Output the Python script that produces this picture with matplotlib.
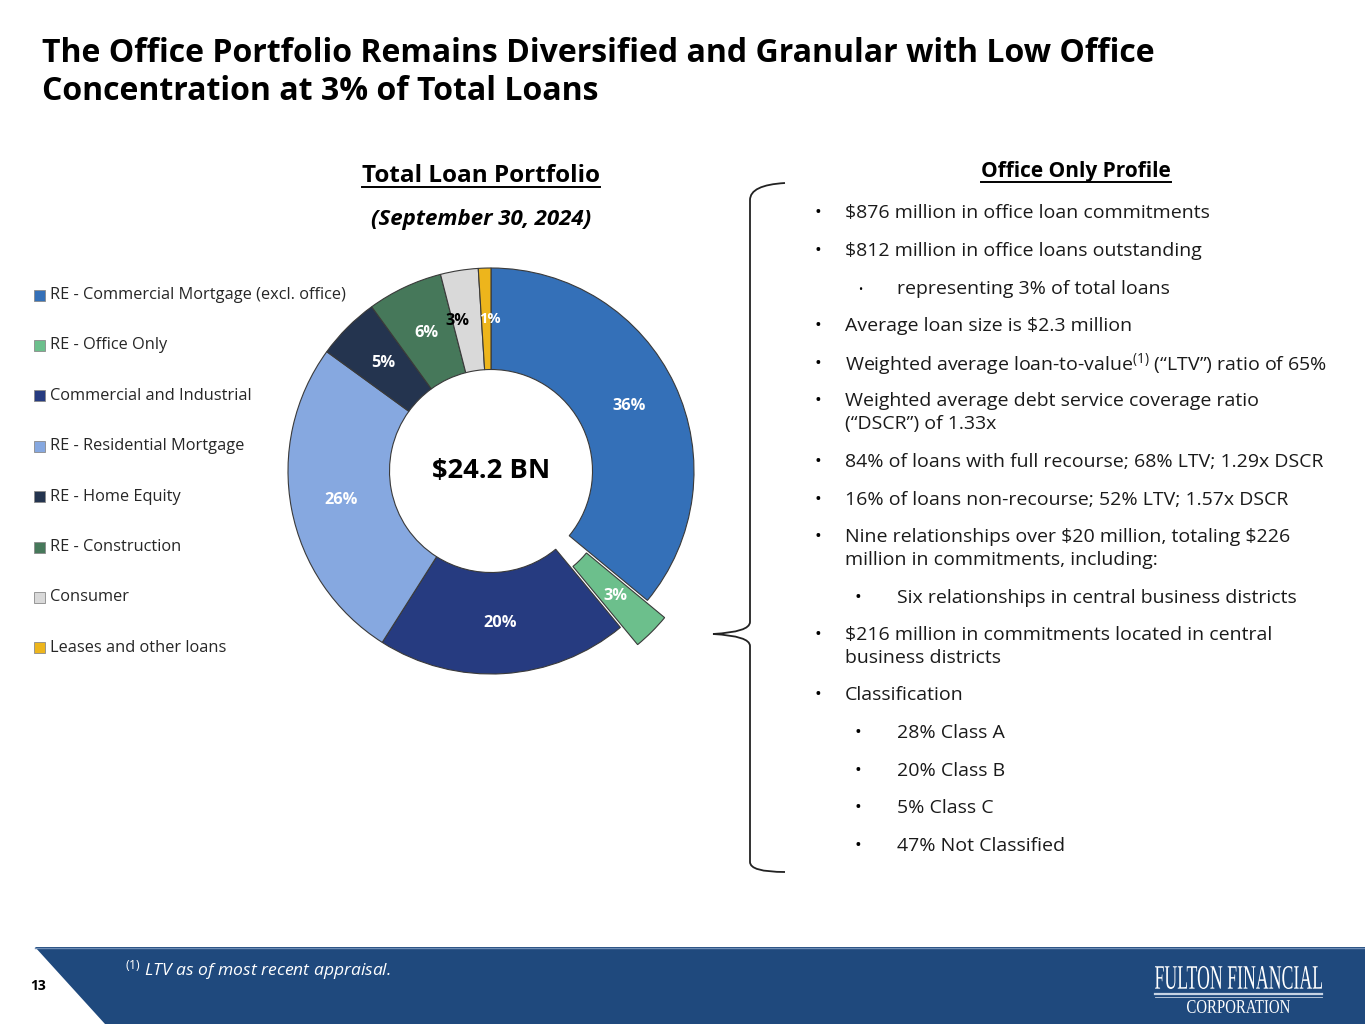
import numpy as np
import matplotlib
matplotlib.use("Agg")
import matplotlib.pyplot as plt
from matplotlib.path import Path
from matplotlib.patches import PathPatch, Polygon, Rectangle
from matplotlib.textpath import TextPath
from matplotlib.font_manager import FontProperties
from matplotlib.transforms import Affine2D

plt.rcParams['font.family'] = ['Open Sans', 'DejaVu Sans']
plt.rcParams['mathtext.fontset'] = 'custom'
plt.rcParams['mathtext.rm'] = 'Open Sans'
plt.rcParams['mathtext.it'] = 'Open Sans:italic'

# loan portfolio mix (percent of total loans)
categories = ["RE - Commercial Mortgage (excl. office)", "RE - Office Only",
              "Commercial and Industrial", "RE - Residential Mortgage",
              "RE - Home Equity", "RE - Construction", "Consumer",
              "Leases and other loans"]
shares = [36, 3, 20, 26, 5, 6, 3, 1]
colors = ["#3470B8", "#6CBF8C", "#263B80", "#86A8E0",
          "#24344F", "#46785A", "#D9D9D9", "#EDB51C"]
label_colors = ["white", "white", "white", "white", "white", "white", "black", "white"]
total_text = "$24.2 BN"

bullets = [
    (0, ["$876 million in office loan commitments"]),
    (0, ["$812 million in office loans outstanding"]),
    (1, ["representing 3% of total loans"]),
    (0, ["Average loan size is $2.3 million"]),
    (0, [r"Weighted average loan-to-value$^{\mathrm{(1)}}$ (“LTV”) ratio of 65%"]),
    (0, ["Weighted average debt service coverage ratio", "(“DSCR”) of 1.33x"]),
    (0, ["84% of loans with full recourse; 68% LTV; 1.29x DSCR"]),
    (0, ["16% of loans non-recourse; 52% LTV; 1.57x DSCR"]),
    (0, ["Nine relationships over $20 million, totaling $226",
         "million in commitments, including:"]),
    (1, ["Six relationships in central business districts"]),
    (0, ["$216 million in commitments located in central", "business districts"]),
    (0, ["Classification"]),
    (1, ["28% Class A"]),
    (1, ["20% Class B"]),
    (1, ["5% Class C"]),
    (1, ["47% Not Classified"]),
]
bullet_y = [213, 251, 289, 326, 364, 401, 462, 500, 537, 598, 635, 695, 733, 771, 808, 846]

W, H = 1365, 1024
fig = plt.figure(figsize=(W / 100, H / 100), dpi=100)
fig.patch.set_facecolor("white")

bg = fig.add_axes([0, 0, 1, 1])
bg.set_xlim(0, W)
bg.set_ylim(H, 0)
bg.axis("off")

# title
bg.text(42, 53, "The Office Portfolio Remains Diversified and Granular with Low Office",
        fontsize=23, fontweight="bold", va="center", ha="left")
bg.text(42, 91, "Concentration at 3% of Total Loans",
        fontsize=23, fontweight="bold", va="center", ha="left")

# section headers
h1 = bg.text(481, 176, "Total Loan Portfolio", fontsize=17.5, fontweight="bold",
             ha="center", va="center")
bg.text(481, 220, "(September 30, 2024)", fontsize=16, fontweight="bold",
        style="italic", ha="center", va="center")
h2 = bg.text(1076, 172, "Office Only Profile", fontsize=15, fontweight="bold",
             ha="center", va="center")

# donut
cx, cy, R = 491, 471, 203
lim = 1.25
side = 2 * lim * R
ax = fig.add_axes([(cx - side / 2) / W, (H - cy - side / 2) / H, side / W, side / H])
explode = [0, 0.12, 0, 0, 0, 0, 0, 0]
wedges, _ = ax.pie(shares, colors=colors, startangle=90, counterclock=False,
                   explode=explode, radius=1,
                   wedgeprops=dict(width=0.5, edgecolor="#3a3a3a", linewidth=0.8))
ax.set_xlim(-lim, lim)
ax.set_ylim(-lim, lim)
ax.set_aspect("equal")
ax.axis("off")

# small nudges so the two thin slices' labels don't sit on top of each other
nudge = [0, 0, 0, 0, 0, 0, -0.05, 0.02]
for w, v, lc, ex, dx in zip(wedges, shares, label_colors, explode, nudge):
    ang = np.deg2rad((w.theta1 + w.theta2) / 2)
    r = 0.75 + ex
    fs = 11.8 if v > 1 else 10.5
    ax.text(r * np.cos(ang) + dx, r * np.sin(ang), f"{v}%", color=lc,
            fontsize=fs, fontweight="bold", ha="center", va="center")
ax.text(0, 0, total_text, fontsize=19.7, fontweight="bold", ha="center",
        va="center", parse_math=False)

# legend
leg_y0, leg_dy = 295, 50.4
for i, (c, name) in enumerate(zip(colors, categories)):
    y = leg_y0 + i * leg_dy
    bg.add_patch(Rectangle((34, y - 5.5), 11, 11, facecolor=c, edgecolor="#8a8a8a", lw=0.6))
    bg.text(50, y, name, fontsize=11.8, va="center", ha="left", color="#262626")

# bullets
for (lvl, lines), y in zip(bullets, bullet_y):
    bx = 818 if lvl == 0 else 858
    tx = 845 if lvl == 0 else 897
    if lines[0].startswith("representing"):
        bg.text(bx + 2, y + 2, "•", fontsize=8, va="center", ha="center")
    else:
        bg.text(bx, y, "•", fontsize=13, va="center", ha="center")
    for j, ln in enumerate(lines):
        pm = "$^" in ln
        bg.text(tx, y + j * 23, ln, fontsize=14, va="center", ha="left",
                color="#1a1a1a", parse_math=pm)

# brace
verts = [(785, 183), (750, 185), (750, 200), (750, 622),
         (750, 632), (713, 634), (750, 636), (750, 646),
         (750, 862), (750, 872), (785, 872)]
codes = [Path.MOVETO, Path.CURVE3, Path.CURVE3, Path.LINETO,
         Path.CURVE3, Path.CURVE3, Path.CURVE3, Path.CURVE3,
         Path.LINETO, Path.CURVE3, Path.CURVE3]
bg.add_patch(PathPatch(Path(verts, codes), fill=False, edgecolor="#222222", lw=1.3))

# footer band
band = "#1F497D"
bg.add_patch(Polygon([(35, 947), (W, 947), (W, H), (105, H)], closed=True,
                     facecolor=band, edgecolor="none"))
bg.plot([35, W], [947.5, 947.5], color="#6F8DB5", lw=1)
bg.text(38, 986, "13", fontsize=10, fontweight="bold", ha="center", va="center")
bg.text(125, 970, r"$^{\mathrm{(1)}}$ LTV as of most recent appraisal.", fontsize=12.6,
        style="italic", color="white", ha="left", va="center")


def fit_text(s, x0, x1, y0, y1, weight="normal"):
    tp = TextPath((0, 0), s, size=10, prop=FontProperties(family="Liberation Serif", weight=weight))
    ext = tp.get_extents()
    sx = (x1 - x0) / ext.width
    sy = (y1 - y0) / ext.height
    tr = Affine2D().translate(-ext.x0, -ext.y0).scale(sx, -sy).translate(x0, y1)
    bg.add_patch(PathPatch(tr.transform_path(tp), facecolor="white", edgecolor="none"))


fit_text("FULTON FINANCIAL", 1155, 1322, 966, 989)
bg.plot([1155, 1322], [994, 994], color="#C8D4E4", lw=1.6)
bg.plot([1155, 1322], [997, 997], color="#C8D4E4", lw=0.6)
fit_text("CORPORATION", 1187, 1290, 1000, 1013)

# underlines for headers
fig.canvas.draw()
inv = bg.transData.inverted()
for t in (h1, h2):
    bb = t.get_window_extent()
    (xa, ya), (xb, yb) = inv.transform([(bb.x0, bb.y0), (bb.x1, bb.y1)])
    bg.plot([xa, xb], [ya - 1, ya - 1], color="black", lw=1.4)

fig.savefig("out.png", dpi=100, facecolor="white")
